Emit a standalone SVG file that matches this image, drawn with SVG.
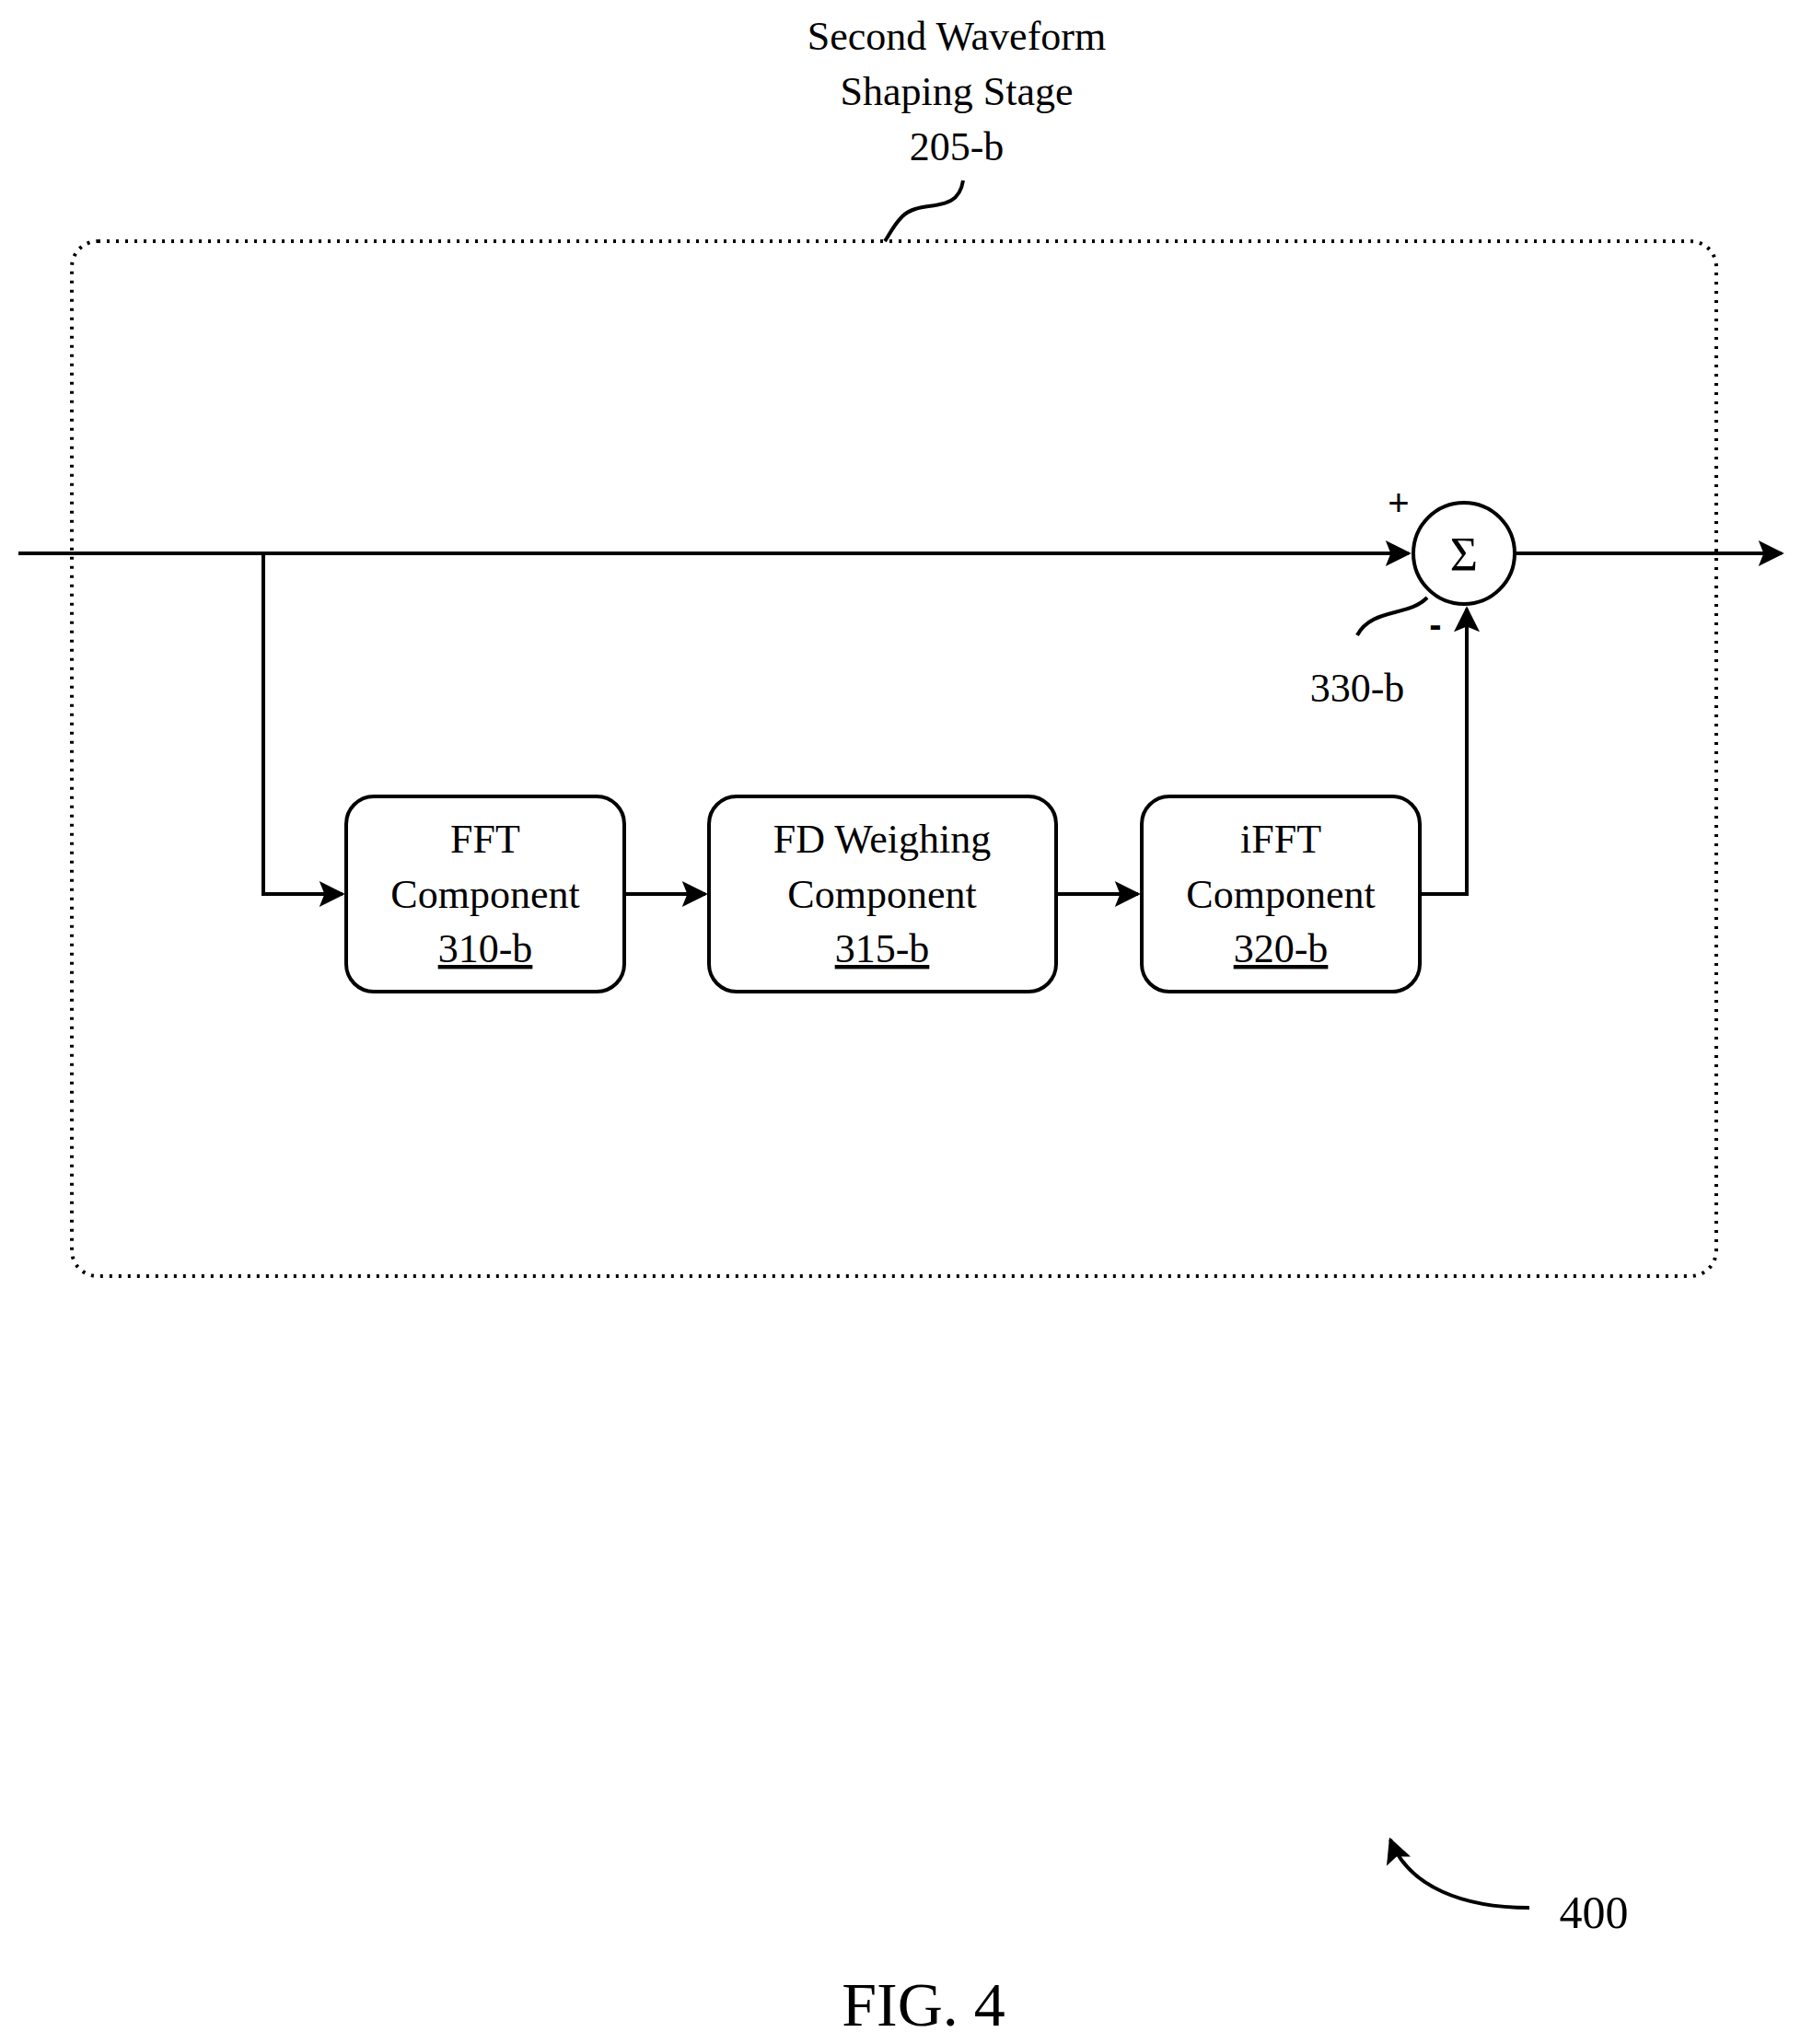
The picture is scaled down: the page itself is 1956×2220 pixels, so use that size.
<svg xmlns="http://www.w3.org/2000/svg" width="1956" height="2220" viewBox="0 0 1956 2220">
<style>
text{font-family:"Liberation Serif","Times New Roman",serif;fill:#000;text-anchor:middle}
.t{font-size:44px}
.box{fill:#fff;stroke:#000;stroke-width:4}
.ln{fill:none;stroke:#000;stroke-width:4}
</style>
<defs><marker id="a" markerWidth="10" markerHeight="10" refX="9" refY="5" orient="auto" markerUnits="userSpaceOnUse" viewBox="0 0 10 10"><path d="M0,0 L10,5 L0,10 Z"/></marker>
<marker id="b" viewBox="0 0 10 10" refX="9" refY="5" markerWidth="32" markerHeight="28" orient="auto" markerUnits="userSpaceOnUse"><path d="M0,0 L10,5 L0,10 L2,5 Z"/></marker></defs>
<rect x="78" y="262" width="1786" height="1124" rx="28" fill="none" stroke="#000" stroke-width="4" stroke-dasharray="3,7"/>
<g id="title" class="t"><text x="1039" y="54" class="t">Second Waveform</text><text x="1039" y="114" class="t">Shaping Stage</text><text x="1039" y="174" class="t">205-b</text></g>
<g id="connectors">
<path class="ln" d="M1046,196 C1040,235 1000,215 980,235 C970,245 966,255 961,262"/>
<path class="ln" d="M20,601 H1530" marker-end="url(#b)"/>
<path class="ln" d="M1646,601 H1935" marker-end="url(#b)"/>
<path class="ln" d="M286,601 V971 H372" marker-end="url(#b)"/>
<path class="ln" d="M678,971 H766" marker-end="url(#b)"/>
<path class="ln" d="M1147,971 H1236" marker-end="url(#b)"/>
<path class="ln" d="M1542,971 H1593 V661" marker-end="url(#b)"/>
<path class="ln" d="M1550,649 C1530,670 1490,660 1474,690"/>
<path class="ln" d="M1661,2072 C1590,2072 1530,2050 1510,1998" marker-end="url(#b)"/>
</g>
<g id="sum"><circle cx="1590" cy="601" r="55" class="box"/><text x="1590" y="620" style="font-size:52px">Σ</text>
<text x="1519" y="560" style="font-size:40px;font-family:'Liberation Sans',sans-serif">+</text>
<text x="1559" y="692" style="font-size:40px;font-family:'Liberation Sans',sans-serif;font-weight:bold">-</text>
<text x="1474" y="762" class="t">330-b</text></g>
<g id="fft"><rect x="376" y="865" width="302" height="212" rx="30" class="box"/><text x="527" y="926" class="t">FFT</text><text x="527" y="986" class="t">Component</text><text x="527" y="1045" class="t" text-decoration="underline">310-b</text></g>
<g id="fd"><rect x="770" y="865" width="377" height="212" rx="30" class="box"/><text x="958" y="926" class="t">FD Weighing</text><text x="958" y="986" class="t">Component</text><text x="958" y="1045" class="t" text-decoration="underline">315-b</text></g>
<g id="ifft"><rect x="1240" y="865" width="302" height="212" rx="30" class="box"/><text x="1391" y="926" class="t">iFFT</text><text x="1391" y="986" class="t">Component</text><text x="1391" y="1045" class="t" text-decoration="underline">320-b</text></g>
<text x="1731" y="2094" class="t" style="font-size:50px">400</text>
<text x="1003" y="2200" style="font-size:68px">FIG. 4</text>
</svg>
